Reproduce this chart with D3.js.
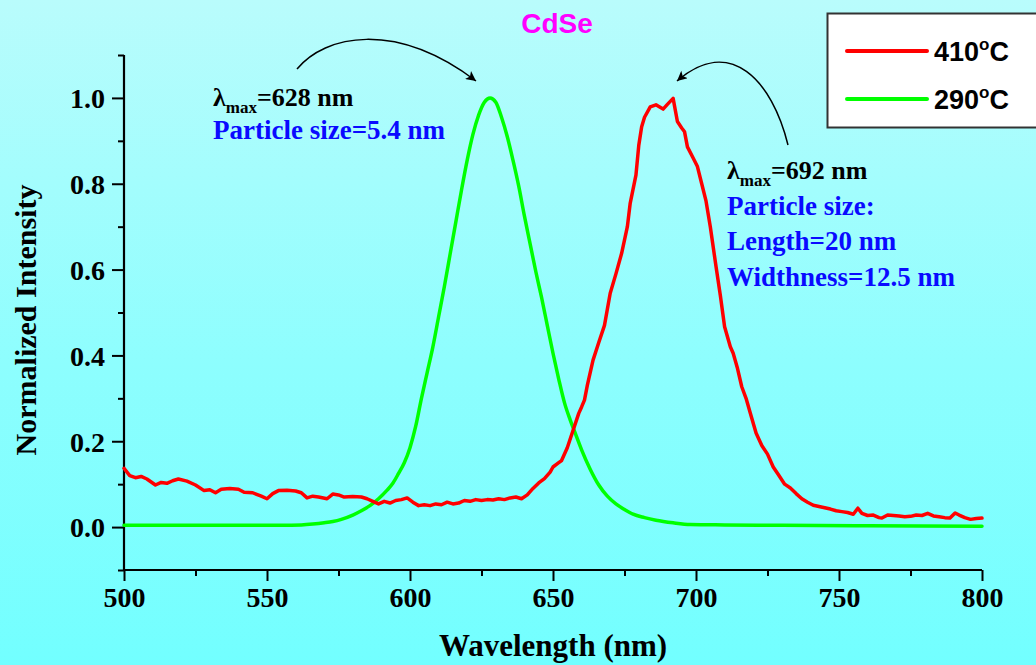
<!DOCTYPE html>
<html>
<head>
<meta charset="utf-8">
<script src="https://cdn.jsdelivr.net/npm/d3@7"></script>
<style>
  html, body { margin: 0; padding: 0; }
  body { width: 1036px; height: 665px; overflow: hidden; }
  svg { display: block; }
</style>
</head>
<body>
<svg id="chart" width="1036" height="665"></svg>
<script>
// Photoluminescence spectra of CdSe grown at two temperatures
const xTicks = [500, 550, 600, 650, 700, 750, 800];
const yTicks = [0.0, 0.2, 0.4, 0.6, 0.8, 1.0];
const yTickLabels = ["0.0", "0.2", "0.4", "0.6", "0.8", "1.0"];

const series = ["410°C", "290°C"];

// 410 °C sample (rod-like particles)
const wl410 = [500,502,504,506,508,511,513,515,517,519,522,525,528,530,532,534,537,540,542,545,548,550,552,554,557,560,562,564,566,568,571,573,575,577,580,583,585,587,589,591,593,595,597,599,601,603,605,607,609,611,613,615,617,619,621,623,625,627,629,631,633,635,637,639,641,643,645,647,649,650,652,653,655,657,659,660,661,662,664,666,668,670,672,674,676,677,679,680,681,682,684,686,687,688.5,690,692,693.5,695,696,697,699,700.5,702,703.5,705,707,708.5,710,712,713,714.5,716,717.5,719,721,723,725,727,729,731,733,735,737,739,741,743,745,747,749,751,753,755,756.6,758,760,762,764,765,767,769,771,773,775,777,779,781,783,785,787,788.8,790.6,792,794,796,798,800];
const int410 = [0.137,0.120,0.115,0.118,0.112,0.098,0.104,0.102,0.108,0.112,0.107,0.098,0.085,0.087,0.080,0.088,0.090,0.088,0.081,0.080,0.072,0.066,0.078,0.085,0.086,0.084,0.080,0.068,0.072,0.070,0.066,0.077,0.075,0.070,0.071,0.070,0.066,0.060,0.054,0.060,0.056,0.062,0.064,0.068,0.058,0.050,0.052,0.050,0.054,0.052,0.058,0.054,0.056,0.062,0.060,0.064,0.062,0.064,0.063,0.066,0.064,0.068,0.070,0.066,0.075,0.090,0.103,0.113,0.128,0.140,0.150,0.155,0.185,0.225,0.265,0.280,0.296,0.330,0.389,0.430,0.470,0.545,0.590,0.638,0.700,0.755,0.820,0.890,0.933,0.955,0.979,0.984,0.980,0.974,0.985,0.999,0.945,0.930,0.921,0.886,0.860,0.840,0.800,0.760,0.700,0.607,0.540,0.467,0.420,0.405,0.370,0.327,0.300,0.265,0.219,0.190,0.170,0.140,0.120,0.100,0.091,0.078,0.066,0.058,0.051,0.048,0.045,0.042,0.038,0.036,0.034,0.030,0.044,0.032,0.027,0.028,0.022,0.021,0.028,0.027,0.026,0.024,0.025,0.028,0.027,0.032,0.026,0.024,0.022,0.021,0.033,0.028,0.022,0.018,0.020,0.021];

// 290 °C sample (dots)
const wl290 = [500,520,540,555,562,566,570,573,576,580,583,586,589,592,594,596,598,600,602,604,606,608,610,612,614,616,618,620,622,624,626,628,630,632,634,636,638,640,642,644,646,648,650,652,654,656,658,660,663,666,669,672,675,678,682,686,692,698,710,730,760,800];
const int290 = [0.004,0.004,0.004,0.004,0.005,0.007,0.010,0.013,0.018,0.028,0.038,0.050,0.066,0.086,0.102,0.125,0.150,0.185,0.235,0.300,0.360,0.420,0.490,0.560,0.635,0.710,0.785,0.855,0.915,0.960,0.990,1.000,0.990,0.955,0.910,0.855,0.795,0.725,0.660,0.595,0.535,0.470,0.405,0.345,0.290,0.250,0.215,0.180,0.135,0.098,0.072,0.054,0.041,0.030,0.022,0.016,0.010,0.006,0.005,0.004,0.003,0.002];

const colors = ["#ff0000", "#00ff00"];

const svg = d3.select("#chart");
const W = 1036, H = 665;

// background gradient
const defs = svg.append("defs");
const grad = defs.append("linearGradient").attr("id", "bg").attr("x1", 0).attr("y1", 0).attr("x2", 0).attr("y2", 1);
grad.append("stop").attr("offset", "0%").attr("stop-color", "#b9fcfc");
grad.append("stop").attr("offset", "55%").attr("stop-color", "#8dfefe");
grad.append("stop").attr("offset", "100%").attr("stop-color", "#72ffff");
svg.append("rect").attr("width", W).attr("height", H).attr("fill", "url(#bg)");

defs.append("marker")
  .attr("id", "arrow").attr("viewBox", "0 0 10 10")
  .attr("refX", 10).attr("refY", 5)
  .attr("markerWidth", 14).attr("markerHeight", 10)
  .attr("markerUnits", "userSpaceOnUse")
  .attr("orient", "auto")
  .append("path").attr("d", "M0,0 L10,5 L0,10 L2.5,5 Z").attr("fill", "#000");

const x = d3.scaleLinear().domain([500, 800]).range([124, 982]);
const y = d3.scaleLinear().domain([-0.1, 1.1]).range([570, 55]);

const serif = "'Liberation Serif', 'Times New Roman', serif";
const sans = "'Liberation Sans', Arial, sans-serif";

// axes
const xAxis = d3.axisBottom(x).tickValues(xTicks).tickSize(11).tickPadding(6).tickFormat(d3.format("d"));
const xMinor = d3.axisBottom(x).tickValues(d3.range(525, 800, 50)).tickSize(6).tickFormat("");
const yAxis = d3.axisLeft(y).tickValues(yTicks).tickSize(12).tickPadding(7).tickFormat((d, i) => yTickLabels[i]);
const yMinor = d3.axisLeft(y).tickValues([-0.1, 0.1, 0.3, 0.5, 0.7, 0.9, 1.1]).tickSize(6).tickFormat("");

function styleAxis(g) {
  g.select(".domain").attr("stroke", "#000").attr("stroke-width", 2.2);
  g.selectAll(".tick line").attr("stroke", "#000").attr("stroke-width", 2);
  g.selectAll(".tick text")
    .attr("fill", "#000")
    .style("font-family", serif)
    .style("font-weight", "bold")
    .style("font-size", "28px");
}

const gx = svg.append("g").attr("transform", "translate(0,570)").call(xAxis).call(styleAxis);
gx.select(".domain").attr("d", "M124,0H982");
svg.append("g").attr("transform", "translate(0,570)").call(xMinor).call(styleAxis).select(".domain").remove();
const gy = svg.append("g").attr("transform", "translate(124,0)").call(yAxis).call(styleAxis);
gy.select(".domain").attr("d", "M0,55V570");
gy.selectAll(".tick text").attr("dy", "0.35em");
svg.append("g").attr("transform", "translate(124,0)").call(yMinor).call(styleAxis).select(".domain").remove();

// axis titles
svg.append("text")
  .attr("x", 553).attr("y", 656)
  .attr("text-anchor", "middle")
  .style("font-family", serif).style("font-weight", "bold").style("font-size", "31px")
  .text("Wavelength (nm)");

svg.append("text")
  .attr("transform", "translate(36,320) rotate(-90)")
  .attr("text-anchor", "middle")
  .style("font-family", serif).style("font-weight", "bold").style("font-size", "30px")
  .text("Normalized Intensity");

// title
svg.append("text")
  .attr("x", 557).attr("y", 33)
  .attr("text-anchor", "middle")
  .attr("fill", "#ff00ff")
  .style("font-family", sans).style("font-weight", "bold").style("font-size", "28px")
  .text("CdSe");

// spectra
const line = d3.line().x(d => x(d[0])).y(d => y(d[1]));
const data410 = wl410.map((w, i) => [w, int410[i]]);
const data290 = wl290.map((w, i) => [w, int290[i]]);

svg.append("path").datum(data290)
  .attr("d", line.curve(d3.curveMonotoneX))
  .attr("fill", "none").attr("stroke", colors[1]).attr("stroke-width", 3.5)
  .attr("stroke-linejoin", "round").attr("stroke-linecap", "round");

svg.append("path").datum(data410)
  .attr("d", line.curve(d3.curveLinear))
  .attr("fill", "none").attr("stroke", colors[0]).attr("stroke-width", 3.5)
  .attr("stroke-linejoin", "round").attr("stroke-linecap", "round");

// annotations
function lambdaLabel(xp, yp, value) {
  const t = svg.append("text").attr("x", xp).attr("y", yp).attr("fill", "#000")
    .style("font-family", serif).style("font-weight", "bold").style("font-size", "26px");
  t.append("tspan").text("λ");
  t.append("tspan").attr("dy", 7).style("font-size", "17px").text("max");
  t.append("tspan").attr("dy", -7).text("=" + value + " nm");
}
function blueLine(xp, yp, s) {
  svg.append("text").attr("x", xp).attr("y", yp).attr("fill", "#0a0aff")
    .style("font-family", serif).style("font-weight", "bold").style("font-size", "27px")
    .text(s);
}

lambdaLabel(213, 106, 628);
blueLine(213, 139, "Particle size=5.4 nm");

lambdaLabel(727, 179, 692);
blueLine(727, 215, "Particle size:");
blueLine(727, 250, "Length=20 nm");
blueLine(727, 286, "Widthness=12.5 nm");

svg.append("path")
  .attr("d", "M297,69 C325,35 395,20 476,81")
  .attr("fill", "none").attr("stroke", "#000").attr("stroke-width", 1.5)
  .attr("marker-end", "url(#arrow)");

svg.append("path")
  .attr("d", "M788,145 C772,80 730,35 677,81")
  .attr("fill", "none").attr("stroke", "#000").attr("stroke-width", 1.5)
  .attr("marker-end", "url(#arrow)");

// legend
const lg = svg.append("g");
lg.append("rect").attr("x", 827.5).attr("y", 13.5).attr("width", 220).attr("height", 114)
  .attr("fill", "#fff").attr("stroke", "#333").attr("stroke-width", 2);
series.forEach((s, i) => {
  const yy = 51 + i * 48;
  lg.append("line").attr("x1", 847).attr("x2", 927).attr("y1", yy).attr("y2", yy)
    .attr("stroke", colors[i]).attr("stroke-width", 4).attr("stroke-linecap", "round");
  const t = lg.append("text").attr("x", 934).attr("y", yy + 10).attr("fill", "#000")
    .style("font-family", sans).style("font-weight", "bold").style("font-size", "27px");
  const parts = s.split("°");
  t.append("tspan").text(parts[0]);
  t.append("tspan").attr("dy", -11).style("font-size", "17px").text("o");
  t.append("tspan").attr("dy", 11).text(parts[1]);
});
</script>
</body>
</html>
